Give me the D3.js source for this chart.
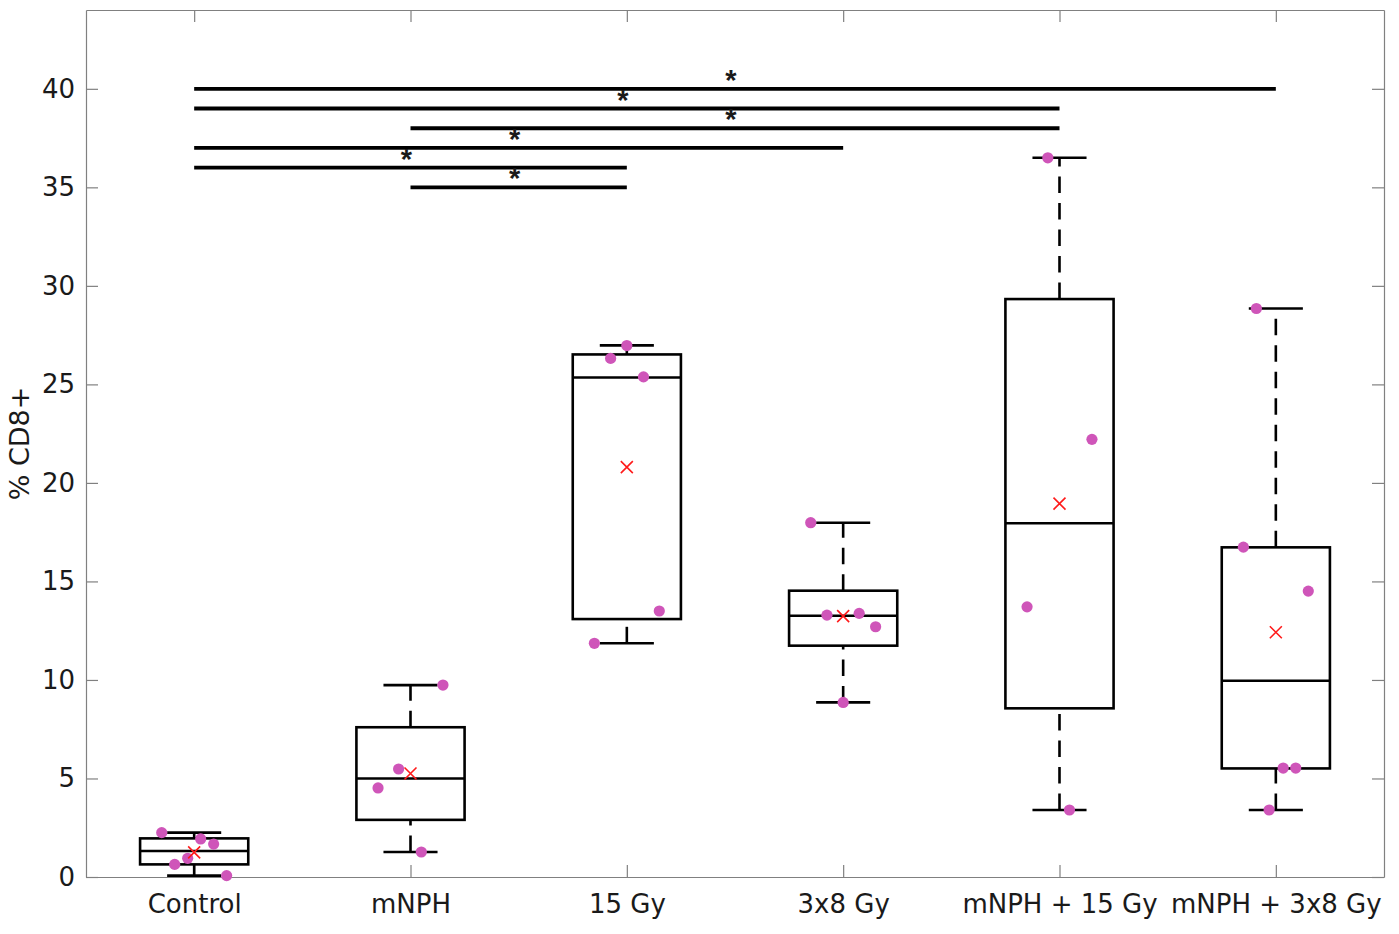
<!DOCTYPE html>
<html>
<head>
<meta charset="utf-8">
<script src="https://cdn.jsdelivr.net/npm/d3@7"></script>
<style>
  html, body { margin: 0; padding: 0; background: #fff; }
  svg text { font-family: "DejaVu Sans", "Liberation Sans", Arial, sans-serif; fill: #1a1a1a; }
</style>
</head>
<body>
<svg id="chart" width="1399" height="934"></svg>
<script>
/*
 * Data
 * ========================================================================== */

const categories = ['Control', 'mNPH', '15 Gy', '3x8 Gy', 'mNPH + 15 Gy', 'mNPH + 3x8 Gy'];

// box statistics per group
const q1Values     = [0.64, 2.90, 13.09, 11.74, 8.56, 5.51];
const medianValues = [1.32, 5.00, 25.35, 13.26, 17.95, 9.96];
const q3Values     = [1.96, 7.60, 26.52, 14.53, 29.33, 16.73];
const whiskerLow   = [0.07, 1.27, 11.86, 8.86, 3.40, 3.40];
const whiskerHigh  = [2.25, 9.74, 26.98, 17.98, 36.50, 28.85];
const meanValues   = [1.25, 5.25, 20.80, 13.24, 18.95, 12.42];

// individual samples and their horizontal jitter (in category units)
const pointValues = [
  [2.25, 1.93, 1.67, 0.95, 0.64, 0.07],
  [9.74, 5.48, 4.52, 1.27],
  [26.97, 26.32, 25.38, 13.50, 11.86],
  [17.98, 13.29, 13.38, 12.70, 8.86],
  [36.50, 22.21, 13.71, 3.40],
  [28.85, 16.74, 14.51, 5.53, 5.53, 3.40]
];
const pointJitter = [
  [-0.15, 0.03, 0.09, -0.03, -0.09, 0.15],
  [0.15, -0.055, -0.15, 0.05],
  [0.0, -0.075, 0.077, 0.15, -0.15],
  [-0.15, -0.075, 0.074, 0.15, 0.0],
  [-0.054, 0.15, -0.15, 0.046],
  [-0.09, -0.15, 0.15, 0.034, 0.092, -0.031]
];

// significance brackets
const sigFrom  = [1, 1, 2, 1, 1, 2];
const sigTo    = [6, 5, 5, 4, 3, 3];
const sigLevel = [40, 39, 38, 37, 36, 35];

const yTicks = [0, 5, 10, 15, 20, 25, 30, 35, 40];

/*
 * Layout
 * ========================================================================== */

const WIDTH = 1399,
      HEIGHT = 934,
      margin = { top: 10, right: 15, bottom: 57, left: 86 };

const svg = d3.select('#chart');

const x = d3.scaleLinear()
            .domain([0.5, categories.length + 0.5])
            .range([margin.left, WIDTH - margin.right]);

const y = d3.scaleLinear()
            .domain([0, 44])
            .range([HEIGHT - margin.bottom, margin.top]);

const unit = x(2) - x(1);
const boxW = unit * 0.5,
      capW = unit * 0.25;

const groups = categories.map((name, i) => ({
  name: name,
  pos: i + 1,
  q1: q1Values[i],
  med: medianValues[i],
  q3: q3Values[i],
  lo: whiskerLow[i],
  hi: whiskerHigh[i],
  mean: meanValues[i],
  points: pointValues[i].map((v, j) => ({ v: v, dx: pointJitter[i][j] }))
}));

/*
 * Axes (MATLAB-style box with inward ticks)
 * ========================================================================== */

const axisColor = '#808080';
const labelFont = '"DejaVu Sans", "Liberation Sans", Arial, sans-serif';

const yAxis = svg.append('g')
  .attr('transform', 'translate(' + margin.left + ',0)')
  .call(d3.axisLeft(y).tickValues(yTicks).tickSizeInner(-12).tickSizeOuter(0).tickPadding(11));

const yAxisRight = svg.append('g')
  .attr('transform', 'translate(' + (WIDTH - margin.right) + ',0)')
  .call(d3.axisRight(y).tickValues(yTicks).tickSizeInner(-12).tickSizeOuter(0).tickFormat(''));

const xAxis = svg.append('g')
  .attr('transform', 'translate(0,' + (HEIGHT - margin.bottom) + ')')
  .call(d3.axisBottom(x).tickValues(groups.map(g => g.pos))
          .tickFormat(d => categories[d - 1])
          .tickSizeInner(-12).tickSizeOuter(0).tickPadding(18));

const xAxisTop = svg.append('g')
  .attr('transform', 'translate(0,' + margin.top + ')')
  .call(d3.axisTop(x).tickValues(groups.map(g => g.pos)).tickSizeInner(-12).tickSizeOuter(0).tickFormat(''));

[yAxis, yAxisRight, xAxis, xAxisTop].forEach(a => {
  a.select('.domain').attr('stroke', axisColor).attr('stroke-width', 1.2);
  a.selectAll('.tick line').attr('stroke', axisColor).attr('stroke-width', 1.2);
  a.selectAll('.tick text').attr('font-size', 26).attr('fill', '#1a1a1a')
    .style('font-family', labelFont);
});

svg.append('text')
  .attr('transform', 'translate(29,' + y(22) + ') rotate(-90)')
  .attr('text-anchor', 'middle')
  .attr('font-size', 27)
  .text('% CD8+');

/*
 * Boxes
 * ========================================================================== */

const plot = svg.append('g');
const lineW = 2.6;

const box = plot.selectAll('g.box')
  .data(groups)
  .enter().append('g')
    .attr('class', 'box');

// whiskers are drawn upward from their lower end, like MATLAB
box.append('line')
  .attr('x1', d => x(d.pos)).attr('x2', d => x(d.pos))
  .attr('y1', d => y(d.q3)).attr('y2', d => y(d.hi))
  .attr('stroke', '#000').attr('stroke-width', lineW)
  .attr('stroke-dasharray', '16.5,10');

box.append('line')
  .attr('x1', d => x(d.pos)).attr('x2', d => x(d.pos))
  .attr('y1', d => y(d.lo)).attr('y2', d => y(d.q1))
  .attr('stroke', '#000').attr('stroke-width', lineW)
  .attr('stroke-dasharray', '16.5,10');

// whisker caps
['lo', 'hi'].forEach(k => {
  box.append('line')
    .attr('x1', d => x(d.pos) - capW / 2).attr('x2', d => x(d.pos) + capW / 2)
    .attr('y1', d => y(d[k])).attr('y2', d => y(d[k]))
    .attr('stroke', '#000').attr('stroke-width', lineW);
});

box.append('rect')
  .attr('x', d => x(d.pos) - boxW / 2)
  .attr('width', boxW)
  .attr('y', d => y(d.q3))
  .attr('height', d => y(d.q1) - y(d.q3))
  .attr('fill', 'none')
  .attr('stroke', '#000').attr('stroke-width', lineW);

box.append('line')
  .attr('x1', d => x(d.pos) - boxW / 2).attr('x2', d => x(d.pos) + boxW / 2)
  .attr('y1', d => y(d.med)).attr('y2', d => y(d.med))
  .attr('stroke', '#000').attr('stroke-width', lineW);

// samples
box.selectAll('circle')
  .data(d => d.points.map(p => ({ pos: d.pos, v: p.v, dx: p.dx })))
  .enter().append('circle')
    .attr('cx', p => x(p.pos + p.dx))
    .attr('cy', p => y(p.v))
    .attr('r', 5.6)
    .attr('fill', '#cf55b9');

// mean markers
const m = 6;
box.append('path')
  .attr('d', d => {
    let cx = x(d.pos), cy = y(d.mean);
    return 'M' + (cx - m) + ',' + (cy - m) + 'L' + (cx + m) + ',' + (cy + m) +
           'M' + (cx - m) + ',' + (cy + m) + 'L' + (cx + m) + ',' + (cy - m);
  })
  .attr('stroke', '#ff1a1a').attr('stroke-width', 1.6).attr('fill', 'none');

/*
 * Significance brackets
 * ========================================================================== */

const sig = plot.selectAll('g.sig')
  .data(sigLevel.map((lv, i) => ({ a: sigFrom[i], b: sigTo[i], lv: lv })))
  .enter().append('g')
    .attr('class', 'sig');

sig.append('line')
  .attr('x1', d => x(d.a)).attr('x2', d => x(d.b))
  .attr('y1', d => y(d.lv)).attr('y2', d => y(d.lv))
  .attr('stroke', '#000').attr('stroke-width', 3.8);

sig.append('text')
  .attr('x', d => x((d.a + d.b) / 2) - 4)
  .attr('y', d => y(d.lv) + 1)
  .attr('text-anchor', 'middle')
  .attr('font-size', 29)
  .attr('font-weight', 'bold')
  .style('font-family', '"Liberation Sans", Arial, sans-serif')
  .text('*');
</script>
</body>
</html>
